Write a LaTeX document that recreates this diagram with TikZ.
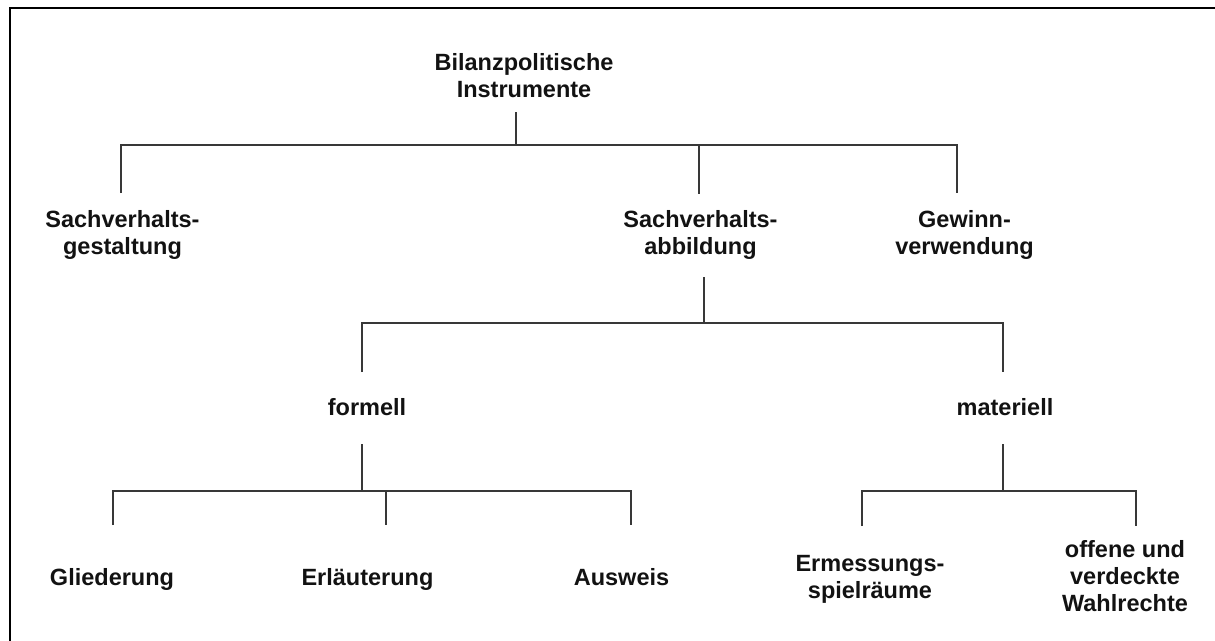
\documentclass[tikz,border=0pt]{standalone}
\usepackage{fontspec}
\setmainfont{Liberation Sans}
\begin{document}
\begin{tikzpicture}[x=1pt,y=-1pt,
  lbl/.style={anchor=north,inner sep=0pt,align=center,text=black!93,
    font=\fontsize{23.5}{27}\selectfont\bfseries},
  conn/.style={draw=black!78,line width=1.8pt},
  frame/.style={draw=black,line width=2pt}]
\useasboundingbox (0,0) rectangle (1215,640);
% frame (top and left edges only)
\coordinate (fbl) at (9.5,641);
\coordinate (ftl) at (9.5,7.5);
\coordinate (ftr) at (1216,7.5);
\draw[frame] (fbl) -- (ftl) -- (ftr);

% nodes
\node[lbl] (root) at (524,53) {Bilanzpolitische\\Instrumente};
\node[lbl] (sg) at (122.5,210) {Sachverhalts-\\gestaltung};
\node[lbl] (sa) at (700.5,210) {Sachverhalts-\\abbildung};
\node[lbl] (gv) at (964.5,210) {Gewinn-\\verwendung};
\node[lbl] (fo) at (367,398) {formell};
\node[lbl] (ma) at (1005,398) {materiell};
\node[lbl] (gl) at (112,568) {Gliederung};
\node[lbl] (er) at (367.5,568) {Erläuterung};
\node[lbl] (au) at (621.5,568) {Ausweis};
\node[lbl] (em) at (870,555) {Ermessungs-\\spielräume};
\node[lbl] (wr) at (1125,540) {offene und\\verdeckte\\Wahlrechte};

% level 1 connectors
\coordinate (r-s) at (516,112);
\coordinate (r-j) at (516,145);
\coordinate (sg-t) at (121,193);
\coordinate (sa-t) at (699,194);
\coordinate (gv-t) at (957,193);
\draw[conn] (r-s) -- (r-j);
\draw[conn] (sg-t) -- (sg-t |- r-j) -- (gv-t |- r-j) -- (gv-t);
\draw[conn] (sa-t |- r-j) -- (sa-t);

% level 2 connectors
\coordinate (sa-s) at (704,277);
\coordinate (sa-j) at (704,323);
\coordinate (fo-t) at (362,372);
\coordinate (ma-t) at (1003,372);
\draw[conn] (sa-s) -- (sa-j);
\draw[conn] (fo-t) -- (fo-t |- sa-j) -- (ma-t |- sa-j) -- (ma-t);

% level 3 (formell)
\coordinate (fo-s) at (362,444);
\coordinate (fo-j) at (362,491);
\coordinate (gl-t) at (113,525);
\coordinate (er-t) at (386,525);
\coordinate (au-t) at (631,525);
\draw[conn] (fo-s) -- (fo-j);
\draw[conn] (gl-t) -- (gl-t |- fo-j) -- (au-t |- fo-j) -- (au-t);
\draw[conn] (er-t |- fo-j) -- (er-t);

% level 3 (materiell)
\coordinate (ma-s) at (1003,444);
\coordinate (ma-j) at (1003,491);
\coordinate (em-t) at (862,526);
\coordinate (wr-t) at (1136,526);
\draw[conn] (ma-s) -- (ma-j);
\draw[conn] (em-t) -- (em-t |- ma-j) -- (wr-t |- ma-j) -- (wr-t);
\end{tikzpicture}
\end{document}
